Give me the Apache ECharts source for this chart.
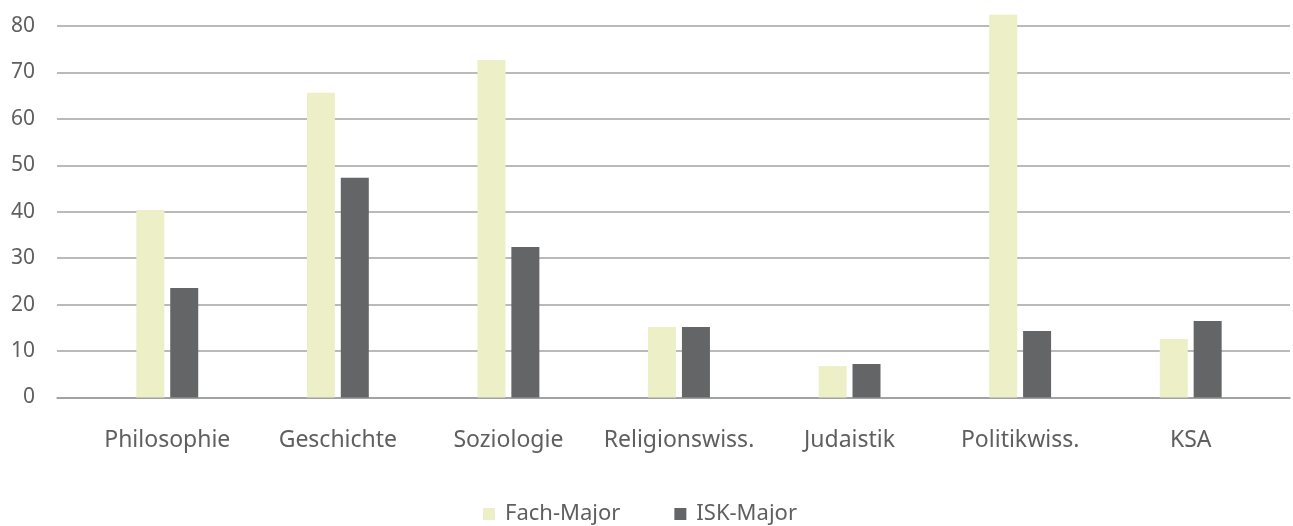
<!DOCTYPE html>
<html><head><meta charset="utf-8">
<script src="https://cdn.jsdelivr.net/npm/echarts@6/dist/echarts.min.js"></script>
<style>html,body{margin:0;padding:0;background:#fff}#c{width:1293px;height:526px}</style>
</head><body><div id="c"></div>
<script>
const categories = ['Philosophie','Geschichte','Soziologie','Religionswiss.','Judaistik','Politikwiss.','KSA'];
const fachMajor = [40.4, 65.6, 72.7, 15.2, 6.8, 82.4, 12.6];
const iskMajor = [23.6, 47.3, 32.4, 15.2, 7.2, 14.3, 16.5];
const yTicks = {min: 0, max: 80, interval: 10};

const chart = echarts.init(document.getElementById('c'));
const font = 'Noto Sans';
chart.setOption({
  animation: false,
  legend: {
    data: ['Fach-Major','ISK-Major'],
    top: 498, left: 478,
    itemWidth: 12, itemHeight: 12, itemGap: 54, icon: 'rect',
    textStyle: {fontFamily: font, fontSize: 22, color: '#5f5f5f', padding: [0,0,0,5]}
  },
  grid: [
    {left: 57, right: 3, top: 26, bottom: 128.5},
    {left: 82, right: 17, top: 26, bottom: 128.5}
  ],
  xAxis: [
    {gridIndex: 0, type: 'category', data: categories, axisLabel: {show: false}, axisTick: {show: false},
     axisLine: {lineStyle: {color: '#9a9a9a', width: 1.5}}},
    {gridIndex: 1, type: 'category', data: categories, axisTick: {show: false}, axisLine: {show: false},
     axisLabel: {interval: 0, fontFamily: font, fontSize: 23, color: '#5f5f5f', margin: 31}}
  ],
  yAxis: [
    {gridIndex: 0, type: 'value', min: yTicks.min, max: yTicks.max, interval: yTicks.interval,
     axisLabel: {fontFamily: font, fontSize: 21, color: '#5f5f5f', margin: 22},
     axisLine: {show: false}, axisTick: {show: false},
     splitLine: {lineStyle: {color: '#a3a3a3', width: 1.5}}},
    {gridIndex: 1, type: 'value', min: yTicks.min, max: yTicks.max, interval: yTicks.interval,
     show: false, splitLine: {show: false}}
  ],
  series: [
    {name: 'Fach-Major', type: 'bar', xAxisIndex: 1, yAxisIndex: 1, data: fachMajor, barWidth: 28, barGap: '21%',
     clip: false, itemStyle: {color: '#edf0c6'}},
    {name: 'ISK-Major', type: 'bar', xAxisIndex: 1, yAxisIndex: 1, data: iskMajor, barWidth: 28, barGap: '21%',
     clip: false, itemStyle: {color: '#646567'}}
  ]
});
</script></body></html>
